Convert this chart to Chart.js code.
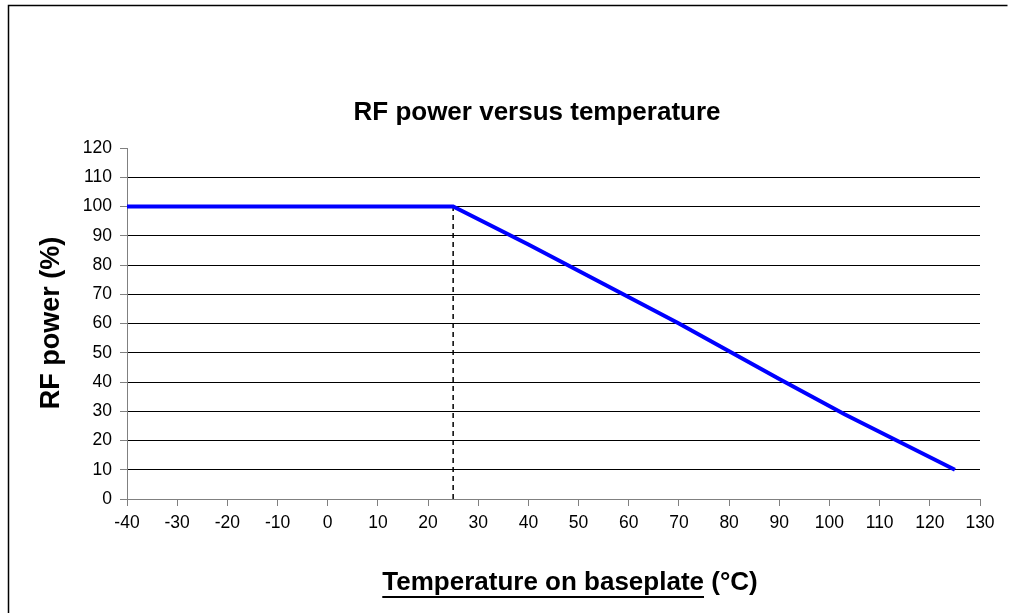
<!DOCTYPE html>
<html>
<head>
<meta charset="utf-8">
<script src="https://cdn.jsdelivr.net/npm/chart.js@4"></script>
<style>
  html, body { margin: 0; padding: 0; background: #fff; }
  #wrap { width: 1010px; height: 613px; position: relative; }
</style>
</head>
<body>
<div id="wrap"><canvas id="chart" width="1010" height="613"></canvas></div>
<script>
// Datos
const temperatura = [-40, 25, 40, 55, 70, 80, 90, 103, 125];
const potencia    = [100, 100, 87, 73.5, 60, 50.5, 41, 29, 10];
const limiteX = [25, 25];
const limiteY = [0, 100];
const tituloGrafico = 'RF power versus temperature';
const tituloY = 'RF power (%)';
const tituloX = 'Temperature on baseplate';
const unidadX = ' (°C)';

const FUENTE = '"Liberation Sans", Arial, sans-serif';

// Marco y textos dibujados a mano (el titulo del eje X lleva subrayado parcial)
const textosPlugin = {
    id: 'textos',
    beforeDraw(chart) {
        const ctx = chart.ctx;
        ctx.save();
        ctx.strokeStyle = '#000';
        ctx.lineWidth = 1.5;
        ctx.beginPath();
        ctx.moveTo(8.5, 613);
        ctx.lineTo(8.5, 5.5);
        ctx.lineTo(1007.5, 5.5);
        ctx.stroke();
        ctx.restore();
    },
    afterDraw(chart) {
        const ctx = chart.ctx;
        ctx.save();
        ctx.fillStyle = '#000';
        ctx.textBaseline = 'middle';

        // titulo
        ctx.font = 'bold 26px ' + FUENTE;
        ctx.textAlign = 'center';
        ctx.fillText(tituloGrafico, 537, 113);

        // eje Y
        ctx.save();
        ctx.translate(52, 323);
        ctx.rotate(-Math.PI / 2);
        ctx.font = 'bold 27px ' + FUENTE;
        ctx.fillText(tituloY, 0, 0);
        ctx.restore();

        // eje X con subrayado
        ctx.font = 'bold 26px ' + FUENTE;
        const w1 = ctx.measureText(tituloX).width;
        const w2 = ctx.measureText(unidadX).width;
        const x0 = 570 - (w1 + w2) / 2;
        ctx.textAlign = 'left';
        ctx.fillText(tituloX, x0, 583);
        ctx.fillText(unidadX, x0 + w1, 583);
        ctx.fillRect(x0, 596, w1, 2);
        ctx.restore();
    }
};

const ctx = document.getElementById('chart').getContext('2d');
new Chart(ctx, {
    type: 'scatter',
    data: {
        datasets: [
            {
                label: 'RF power',
                data: temperatura.map((t, i) => ({ x: t, y: potencia[i] })),
                showLine: true,
                borderColor: '#0000ff',
                borderWidth: 4,
                pointRadius: 0,
                tension: 0
            },
            {
                label: 'limite',
                data: limiteX.map((t, i) => ({ x: t, y: limiteY[i] })),
                showLine: true,
                borderColor: '#000',
                borderWidth: 1.5,
                borderDash: [5, 4],
                pointRadius: 0
            }
        ]
    },
    options: {
        responsive: false,
        animation: false,
        layout: { padding: { left: 0, right: 30, top: 148, bottom: 0 } },
        plugins: {
            legend: { display: false },
            tooltip: { enabled: false }
        },
        scales: {
            x: {
                type: 'linear',
                min: -40,
                max: 130,
                afterFit(scale) {
                    scale.height = 114;
                    scale.paddingLeft = 0;
                    scale.paddingRight = 0;
                },
                ticks: {
                    stepSize: 10,
                    color: '#000',
                    padding: 7,
                    font: { family: FUENTE, size: 17.5 }
                },
                grid: {
                    drawOnChartArea: false,
                    tickLength: 7,
                    tickColor: '#808080'
                },
                border: { color: '#808080', width: 1 }
            },
            y: {
                min: 0,
                max: 120,
                afterFit(scale) {
                    scale.width = 127;
                    scale.paddingTop = 0;
                    scale.paddingBottom = 0;
                },
                ticks: {
                    stepSize: 10,
                    color: '#000',
                    padding: 8,
                    font: { family: FUENTE, size: 17.5 }
                },
                grid: {
                    color: c => (c.tick && (c.tick.value === 0 || c.tick.value === 120)) ? 'rgba(0,0,0,0)' : '#000',
                    tickLength: 7,
                    tickColor: '#808080',
                    lineWidth: 1
                },
                border: { color: '#808080', width: 1 }
            }
        }
    },
    plugins: [textosPlugin]
});
</script>
</body>
</html>
